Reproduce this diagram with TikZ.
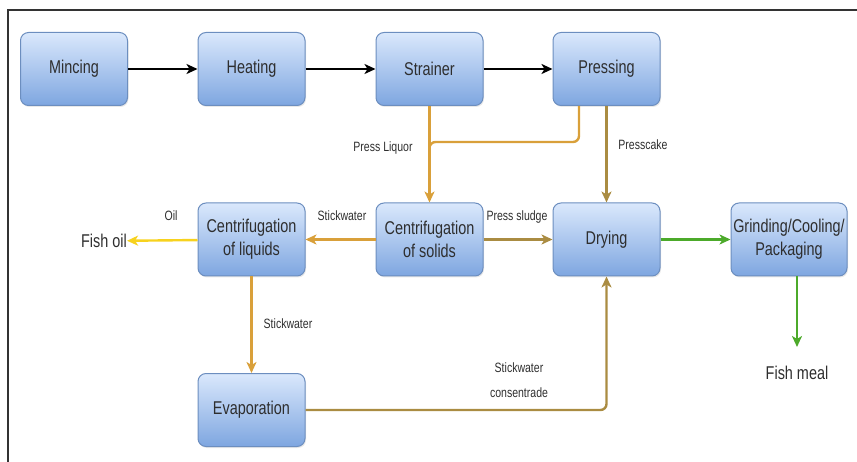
\documentclass[tikz,border=0pt]{standalone}
\usepackage{fontspec}
\setmainfont[FakeStretch=0.78]{Liberation Sans}
\usetikzlibrary{arrows.meta,shadows}

\definecolor{boxtop}{HTML}{DAE8FC}
\definecolor{boxbot}{HTML}{7EA6E0}
\definecolor{boxline}{HTML}{6C8EBF}
\definecolor{textgray}{HTML}{2E2E2E}
\definecolor{framegray}{HTML}{333333}
\definecolor{liquor}{HTML}{D9A03A}
\definecolor{solids}{HTML}{AA8C42}
\definecolor{oilyellow}{HTML}{F7D21E}
\definecolor{mealgreen}{HTML}{4CAA2A}

\tikzset{
  stage/.style={draw=boxline, line width=1pt, rounded corners=8pt,
    top color=boxtop, bottom color=boxbot,
    drop shadow={opacity=0.18, shadow xshift=1pt, shadow yshift=-1.5pt},
    minimum width=107pt, minimum height=73pt, inner sep=2pt,
    align=center, text=textgray, font=\fontsize{18.5}{23}\selectfont},
  flow/.style={line width=2.4pt, -{Stealth[length=11pt,width=10pt,inset=3pt]}},
  lbl/.style={text=textgray, font=\fontsize{13.5}{25}\selectfont, align=center, inner sep=0pt},
  product/.style={text=textgray, font=\fontsize{18.5}{23}\selectfont, inner sep=0pt},
}

\begin{document}
\begin{tikzpicture}[x=1pt, y=-1pt]
\useasboundingbox (0,0) rectangle (857,462);

% surrounding frame
\draw[framegray, line width=1.3pt] (8,10) rectangle (890,490);

% process stages
\node[stage] (mince)  at (74,69)     {Mincing};
\node[stage] (heat)   at (251.5,69)  {Heating};
\node[stage] (strain) at (429.5,69)  {Strainer};
\node[stage] (press)  at (606.5,69)  {Pressing};
\node[stage] (cliq)   at (251.5,239.5) {Centrifugation\\of liquids};
\node[stage] (csol)   at (429.5,239.5) {Centrifugation\\of solids};
\node[stage] (dry)    at (606.5,239.5) {Drying};
\node[stage, minimum width=116pt] (grind) at (789,239.5) {Grinding/Cooling/\\Packaging};
\node[stage] (evap)   at (251.5,410) {Evaporation};

% end products
\node[product] (oil)  at (104,241) {Fish oil};
\node[product] (meal) at (797,373) {Fish meal};

% helper points
\coordinate (pl) at (579,142);
\coordinate (pc) at (429.5,142);
\coordinate (gout) at (797,276);
\coordinate (mealtop) at (797,347);

% main line
\draw[flow, black] (mince) -- (heat);
\draw[flow, black] (heat) -- (strain);
\draw[flow, black] (strain) -- (press);

% press liquor
\draw[flow, liquor] (strain) -- (csol);
\draw[liquor, line width=2.4pt, rounded corners=6pt]
  (press.south -| pl) -- (pl) -- (pc) -- ([yshift=-14pt]pc);
\node[lbl] at (383,148) {Press Liquor};

% presscake
\draw[flow, solids] (press.south -| dry) -- (dry);
\node[lbl] at (643,145) {Presscake};

% centrifugation outputs
\draw[flow, liquor] (csol) -- (cliq);
\node[lbl] at (342,216) {Stickwater};
\draw[flow, oilyellow] (cliq) -- (oil);
\node[lbl] at (171,216) {Oil};
\draw[flow, solids] (csol) -- (dry);
\node[lbl] at (517,217) {Press sludge};

% drying to grinding to meal
\draw[flow, mealgreen] (dry) -- (grind);
\draw[flow, mealgreen] (gout) -- (mealtop);

% stickwater through evaporation
\draw[flow, liquor] (cliq) -- (evap);
\node[lbl] at (288,324) {Stickwater};
\draw[flow, solids, rounded corners=6pt] (evap.east) -| (dry.south);
\node[lbl] at (519,380) {Stickwater\\consentrade};
\end{tikzpicture}
\end{document}
